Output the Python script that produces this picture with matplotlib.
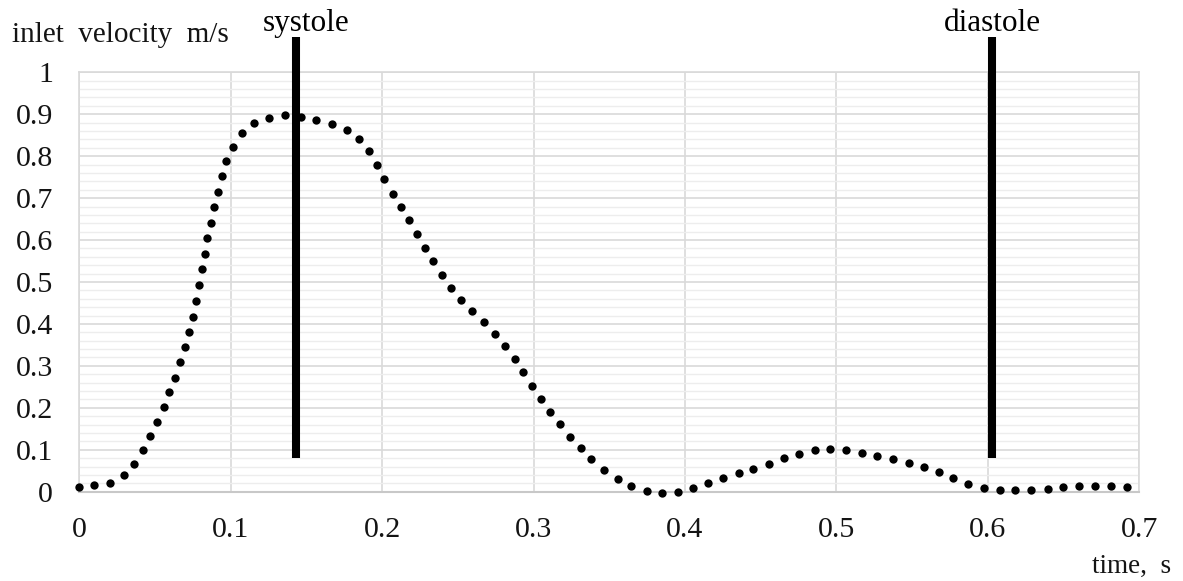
import matplotlib
matplotlib.use("Agg")
import matplotlib.pyplot as plt
from matplotlib.ticker import MultipleLocator

# ---- data (dot centres along the dotted curve) ----
time_s = [0.0000, 0.0097, 0.0203, 0.0295, 0.0363, 0.0423, 0.0467, 0.0515, 0.0557, 0.0594,
          0.0632, 0.0665, 0.0698, 0.0725, 0.0749, 0.0771, 0.0791, 0.0810, 0.0828, 0.0845,
          0.0868, 0.0890, 0.0914, 0.0941, 0.0969, 0.1013, 0.1073, 0.1154, 0.1255, 0.1358,
          0.1462, 0.1565, 0.1667, 0.1766, 0.1847, 0.1913, 0.1964, 0.2015, 0.2070, 0.2125,
          0.2180, 0.2232, 0.2285, 0.2338, 0.2396, 0.2455, 0.2523, 0.2596, 0.2673, 0.2748,
          0.2814, 0.2876, 0.2933, 0.2992, 0.3050, 0.3109, 0.3175, 0.3243, 0.3314, 0.3380,
          0.3466, 0.3556, 0.3646, 0.3748, 0.3849, 0.3952, 0.4055, 0.4155, 0.4254, 0.4355,
          0.4452, 0.4553, 0.4655, 0.4756, 0.4857, 0.4960, 0.5064, 0.5168, 0.5269, 0.5374,
          0.5476, 0.5577, 0.5678, 0.5773, 0.5870, 0.5973, 0.6077, 0.6182, 0.6286, 0.6394,
          0.6497, 0.6601, 0.6707, 0.6812, 0.6918]
velocity = [0.0105, 0.016, 0.0215, 0.039, 0.066, 0.0995, 0.132, 0.167, 0.201, 0.237,
            0.272, 0.309, 0.344, 0.380, 0.417, 0.455, 0.493, 0.530, 0.567, 0.604,
            0.641, 0.680, 0.715, 0.753, 0.789, 0.823, 0.855, 0.878, 0.892, 0.897,
            0.894, 0.886, 0.877, 0.862, 0.840, 0.812, 0.778, 0.745, 0.711, 0.680,
            0.648, 0.614, 0.582, 0.549, 0.517, 0.486, 0.457, 0.431, 0.404, 0.376,
            0.347, 0.316, 0.285, 0.253, 0.221, 0.191, 0.161, 0.131, 0.105, 0.077,
            0.052, 0.030, 0.013, 0.001, -0.003, 0.000, 0.0095, 0.021, 0.033, 0.044,
            0.055, 0.067, 0.080, 0.091, 0.099, 0.101, 0.099, 0.092, 0.084, 0.077,
            0.068, 0.060, 0.048, 0.033, 0.018, 0.0095, 0.005, 0.003, 0.004, 0.0065,
            0.011, 0.0135, 0.014, 0.0135, 0.011]

phase_times = [0.1433, 0.6028]
phase_labels = ["systole", "diastole"]
phase_label_x = [0.1497, 0.6028]

x_ticks = [0, 0.1, 0.2, 0.3, 0.4, 0.5, 0.6, 0.7]
x_tick_labels = ["0", "0.1", "0.2", "0.3", "0.4", "0.5", "0.6", "0.7"]
y_ticks = [0, 0.1, 0.2, 0.3, 0.4, 0.5, 0.6, 0.7, 0.8, 0.9, 1.0]
y_tick_labels = ["0", "0.1", "0.2", "0.3", "0.4", "0.5", "0.6", "0.7", "0.8", "0.9", "1"]

# ---- figure ----
plt.rcParams["font.family"] = ["Liberation Serif", "DejaVu Serif"]
W, H = 1183, 581
fig = plt.figure(figsize=(W / 100, H / 100), dpi=100)
ax = fig.add_axes([79.3 / W, 1 - 491.7 / H, (1139.3 - 79.3) / W, (491.7 - 72.3) / H])

ax.set_xlim(0, 0.7)
ax.set_ylim(0, 1)

ax.yaxis.set_minor_locator(MultipleLocator(0.02))
ax.set_xticks(x_ticks)
ax.set_xticklabels(x_tick_labels)
ax.set_yticks(y_ticks)
ax.set_yticklabels(y_tick_labels)
ax.grid(which="major", color="#d9d9d9", linewidth=1.2, zorder=0)
ax.grid(which="minor", axis="y", color="#ededed", linewidth=1.0, zorder=0)
ax.set_axisbelow(True)
ax.tick_params(which="both", length=0)
ax.tick_params(axis="y", pad=19, labelsize=21.5, labelcolor="#141414")
ax.tick_params(axis="x", pad=18, labelsize=21.5, labelcolor="#141414")

for side in ["top", "right", "left"]:
    ax.spines[side].set_color("#d9d9d9")
    ax.spines[side].set_linewidth(1.2)
ax.spines["bottom"].set_color("#c8c8c8")
ax.spines["bottom"].set_linewidth(1.5)

# dotted curve
ax.plot(time_s, velocity, linestyle="none", marker="o", markersize=6.0,
        color="black", markeredgewidth=0, clip_on=False, zorder=3)

# phase markers
for t, lab, lx in zip(phase_times, phase_labels, phase_label_x):
    ax.plot([t, t], [0.0796, 1.084], color="black", linewidth=5.8,
            solid_capstyle="butt", clip_on=False, zorder=4)
    ax.text(lx, 1.098, lab, ha="center", va="baseline", fontsize=22.5, clip_on=False)

fig.text(12 / W, 1 - 41.7 / H, "inlet  velocity  m/s", ha="left", va="baseline",
         fontsize=21, color="#141414")
fig.text(1171 / W, 1 - 573 / H, "time,  s", ha="right", va="baseline",
         fontsize=19.5, color="#141414")

fig.savefig("out.png", dpi=100)
